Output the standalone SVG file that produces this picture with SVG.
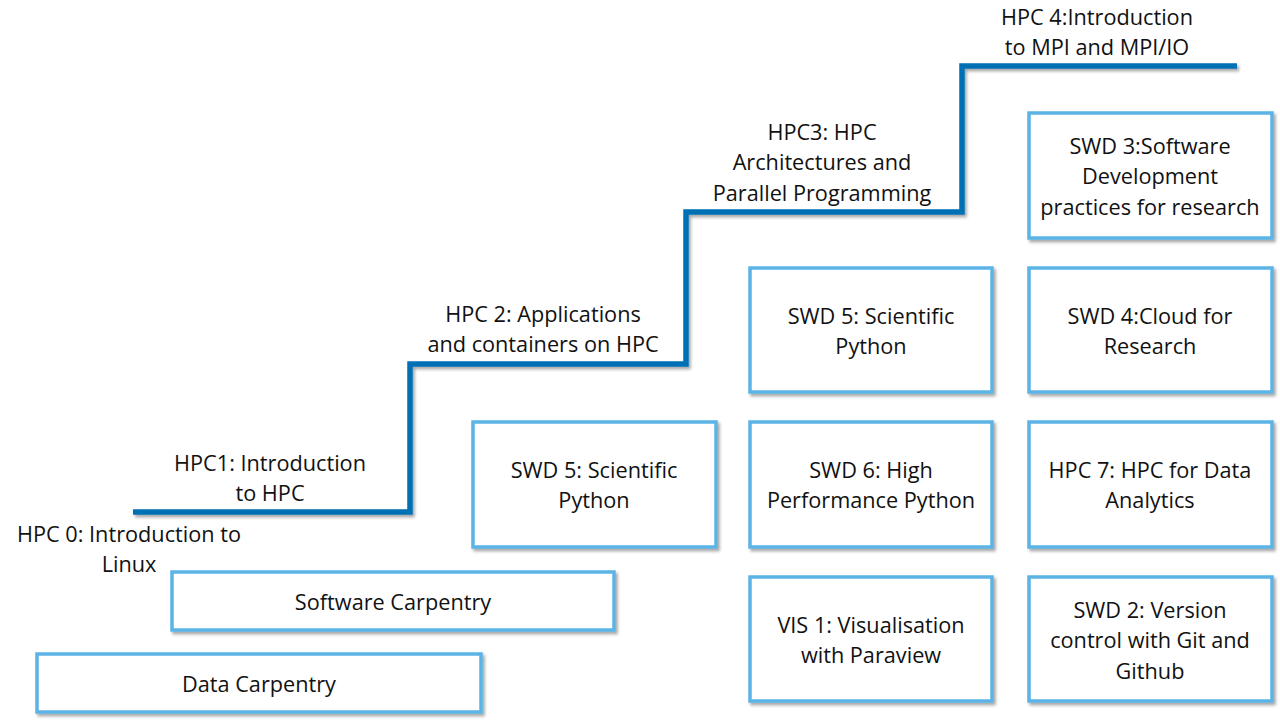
<svg xmlns="http://www.w3.org/2000/svg" width="1280" height="720" viewBox="0 0 1280 720">
<defs>
<style>
.box{fill:#ffffff;stroke:#5BB4E6;stroke-width:3.5;filter:url(#sh)}
.t{font-family:"Open Sans","Liberation Sans",sans-serif;font-size:21.7px;fill:#111;text-anchor:middle}
.stair{fill:none;stroke:#0070B4;stroke-width:5.5;filter:url(#sh)}
</style>
<filter id="sh" x="-10%" y="-10%" width="120%" height="130%">
<feDropShadow dx="2" dy="2.5" stdDeviation="1.5" flood-color="#000" flood-opacity="0.35"/>
</filter>
</defs>
<rect width="1280" height="720" fill="#fff"/>
<g id="connectors">
<path class="stair" d="M133 512 H410 V364 H686 V212 H962 V66 H1237"/>
</g>
<g id="hpc4"><text class="t" x="1097" y="25">HPC 4:Introduction</text><text class="t" x="1097" y="55">to MPI and MPI/IO</text></g>
<g id="hpc3"><text class="t" x="822" y="140">HPC3: HPC</text><text class="t" x="822" y="170">Architectures and</text><text class="t" x="822" y="201">Parallel Programming</text></g>
<g id="hpc2"><text class="t" x="543" y="322">HPC 2: Applications</text><text class="t" x="543" y="352">and containers on HPC</text></g>
<g id="hpc1"><text class="t" x="270" y="471">HPC1: Introduction</text><text class="t" x="270" y="501">to HPC</text></g>
<g id="hpc0"><text class="t" x="129" y="542">HPC 0: Introduction to</text><text class="t" x="129" y="572">Linux</text></g>
<g id="swc"><rect class="box" x="172" y="572" width="442" height="58"/><text class="t" x="393" y="610">Software Carpentry</text></g>
<g id="dc"><rect class="box" x="37" y="654" width="444" height="58"/><text class="t" x="259" y="692">Data Carpentry</text></g>
<g id="swd5a"><rect class="box" x="473" y="422" width="243" height="125"/><text class="t" x="594" y="478">SWD 5: Scientific</text><text class="t" x="594" y="508">Python</text></g>
<g id="swd5b"><rect class="box" x="750" y="268" width="242" height="124"/><text class="t" x="871" y="324">SWD 5: Scientific</text><text class="t" x="871" y="354">Python</text></g>
<g id="swd6"><rect class="box" x="750" y="422" width="242" height="125"/><text class="t" x="871" y="478">SWD 6: High</text><text class="t" x="871" y="508">Performance Python</text></g>
<g id="vis1"><rect class="box" x="750" y="577" width="242" height="124"/><text class="t" x="871" y="633">VIS 1: Visualisation</text><text class="t" x="871" y="663">with Paraview</text></g>
<g id="swd3"><rect class="box" x="1029" y="113" width="243" height="125"/><text class="t" x="1150" y="154">SWD 3:Software</text><text class="t" x="1150" y="184">Development</text><text class="t" x="1150" y="215">practices for research</text></g>
<g id="swd4"><rect class="box" x="1029" y="268" width="243" height="124"/><text class="t" x="1150" y="324">SWD 4:Cloud for</text><text class="t" x="1150" y="354">Research</text></g>
<g id="hpc7"><rect class="box" x="1029" y="422" width="243" height="125"/><text class="t" x="1150" y="478">HPC 7: HPC for Data</text><text class="t" x="1150" y="508">Analytics</text></g>
<g id="swd2"><rect class="box" x="1029" y="577" width="243" height="124"/><text class="t" x="1150" y="618">SWD 2: Version</text><text class="t" x="1150" y="648">control with Git and</text><text class="t" x="1150" y="679">Github</text></g>
</svg>
